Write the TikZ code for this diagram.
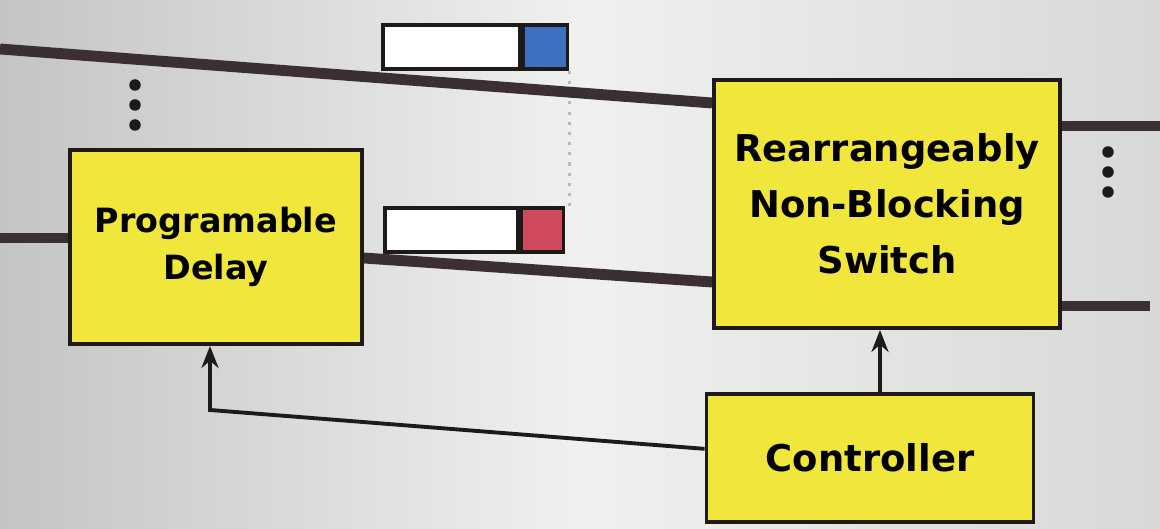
\documentclass[tikz,border=0pt]{standalone}
\usepackage{fontspec}
\setmainfont{DejaVu Sans}
\usetikzlibrary{positioning,arrows.meta}
\definecolor{slide}{HTML}{F0F0EE}
\definecolor{edge}{HTML}{C4C4C2}
\definecolor{boxfill}{HTML}{F0E63C}
\definecolor{wire}{HTML}{3A2F33}
\definecolor{ink}{HTML}{1E1A1A}
\definecolor{qblue}{HTML}{3F6FBF}
\definecolor{qred}{HTML}{CF4A5C}

\begin{document}
\begin{tikzpicture}[every node/.style={font=\bfseries},
    block/.style={draw=ink,line width=1.1pt,fill=boxfill,align=center,inner sep=0pt},
    bus/.style={wire,line width=3.1pt},
    ctrl/.style={ink,line width=1.1pt,-{Stealth[length=2.2mm,width=1.7mm]}},
    gauge/.style={draw=ink,line width=1pt,inner sep=0pt,minimum height=0.44cm},
    dot/.style={circle,fill=ink,inner sep=0pt,minimum size=1.15mm}]
    \useasboundingbox (0,0) rectangle (11.6,5.29);
    \fill[left color=edge,right color=edge!55!slide,middle color=slide] (0,0) rectangle (11.6,5.29);
    % blocks
    \node[block,minimum width=3.46cm,minimum height=2.48cm,font=\bfseries\fontsize{10.5}{16}\selectfont] (switch) at (8.87,3.25) {Rearrangeably\\Non-Blocking\\Switch};
    \node[block,minimum width=2.92cm,minimum height=1.94cm,font=\bfseries\fontsize{9.5}{13.5}\selectfont] (delay) at (2.16,2.82) {Programable\\Delay};
    \node[block,minimum width=3.27cm,minimum height=1.28cm,below=0.62cm of switch,xshift=-1.7mm,font=\bfseries\fontsize{10.5}{13}\selectfont] (controller) {Controller};
    % level gauges
    \node[gauge,fill=white,minimum width=1.37cm] (gaugeA) at (4.515,4.82) {};
    \node[gauge,fill=qblue,minimum width=0.44cm,right=0pt of gaugeA] (markA) {};
    \node[gauge,fill=white,minimum width=1.33cm] (gaugeB) at (4.515,2.99) {};
    \node[gauge,fill=qred,minimum width=0.42cm,right=0pt of gaugeB] (markB) {};
    \draw[gray!55,dotted,line width=0.9pt] (markA.south east) -- (markA.south east |- markB.north);
    % signal lines
    \coordinate (inA) at (0,4.80);
    \coordinate (inB) at (0,2.91);
    \coordinate (outA) at (11.6,4.03);
    \coordinate (outB) at (11.5,2.23);
    \draw[bus] (inA) -- ([yshift=1.01cm]switch.west);
    \draw[bus] (inB) -- (inB -| delay.west);
    \draw[bus] ([yshift=-1.1mm]delay.east) -- ([yshift=-7.8mm]switch.west);
    \draw[bus] (switch.east |- outA) -- (outA);
    \draw[bus] (switch.east |- outB) -- (outB);
    % control
    \coordinate (bend) at (2.10,1.19);
    \draw[ctrl] ([xshift=1mm]controller.north) -- ([xshift=-0.7mm]switch.south);
    \draw[ctrl] ([yshift=0.9mm]controller.west) -- (bend) -- (bend |- delay.south);
    % more channels
    \foreach \y [count=\i] in {4.44,4.24,4.04}
      \node[dot] (ldots\i) at (1.35,\y) {};
    \foreach \y [count=\i] in {3.77,3.57,3.37}
      \node[dot] (rdots\i) at (11.08,\y) {};
\end{tikzpicture}
\end{document}
